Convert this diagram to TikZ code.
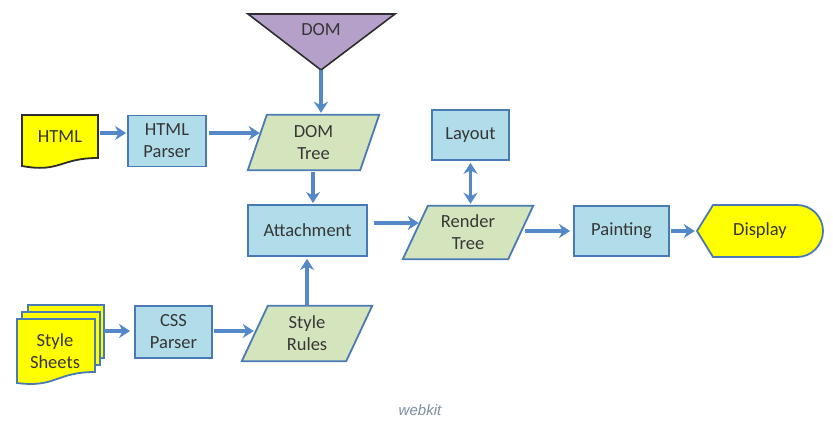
\documentclass[tikz,border=0pt]{standalone}
\usepackage{fontspec}
\setmainfont{Carlito}
\newfontfamily\captionfont{Liberation Sans}
\usetikzlibrary{arrows.meta,backgrounds}

\definecolor{procfill}{HTML}{B0DDE9}
\definecolor{datafill}{HTML}{D4E5BE}
\definecolor{domfill}{HTML}{B5A0CA}
\definecolor{docfill}{HTML}{FFFF00}
\definecolor{edgeblue}{HTML}{4A7AB4}
\definecolor{flowblue}{HTML}{5588C8}
\definecolor{inkdark}{HTML}{2E2E2E}
\definecolor{labelgray}{HTML}{363636}
\definecolor{captiongray}{HTML}{8090A0}

\begin{document}
\begin{tikzpicture}[x=1pt,y=-1pt,
  every node/.style={font=\fontsize{18.5}{22}\selectfont, text=labelgray, align=center, inner sep=0pt},
  proc/.style={draw=edgeblue, fill=procfill, line width=1.8pt},
  holder/.style={rectangle},
  datashape/.style={draw=edgeblue, fill=datafill, line width=1.8pt, line join=miter},
  docshape/.style={fill=docfill, line width=1.8pt},
  flow/.style={draw=flowblue, line width=3.2pt,
    -{Stealth[length=11pt,width=14pt,inset=3.5pt]}},
  twoway/.style={draw=flowblue, line width=3.2pt,
    {Stealth[length=11pt,width=14pt,inset=3.5pt]}-{Stealth[length=11pt,width=14pt,inset=3.5pt]}}
]
\useasboundingbox (0,0) rectangle (833,430);

% ---- processes ----
\node[proc, minimum width=78pt, minimum height=51pt] (parser) at (167,141) {HTML\\Parser};
\node[proc, minimum width=77pt, minimum height=52pt] (cssparser) at (173.5,332) {CSS\\Parser};
\node[proc, minimum width=119pt, minimum height=51pt] (attach) at (307.5,230.5) {Attachment};
\node[proc, minimum width=77pt, minimum height=50pt] (layout) at (470.5,135) {Layout};
\node[proc, minimum width=95pt, minimum height=50pt] (paint) at (621.5,231) {Painting};

% ---- data (parallelograms) ----
\node[holder, minimum width=131pt, minimum height=55pt] (domtree) at (313.5,142.5) {DOM\\Tree};
\node[holder, minimum width=130pt, minimum height=53pt] (render) at (468,232.5) {Render\\Tree};
\node[holder, minimum width=130pt, minimum height=55pt] (rules) at (307,333.5) {Style\\Rules};

% ---- inputs, output, DOM ----
\node[holder, minimum width=76pt, minimum height=44pt] (html) at (60,137) {HTML};
\node[holder, minimum width=78pt, minimum height=50pt] (sheets) at (55,351) {Style\\Sheets};
\node[holder, minimum width=126pt, minimum height=52pt] (display) at (760,231) {Display};
\node[holder] (dom) at (321,30) {DOM};
\coordinate (domtip) at (321,70);

\node[font=\captionfont\itshape\fontsize{15}{18}\selectfont, text=captiongray] (caption) at (420,410) {webkit};

\begin{scope}[on background layer]
  \fill[white] (0,0) rectangle (833,430);
  % parallelograms
  \draw[datashape] ([xshift=19pt]domtree.north west) -- (domtree.north east)
    -- ([xshift=-19pt]domtree.south east) -- (domtree.south west) -- cycle;
  \draw[datashape] ([xshift=25pt]render.north west) -- (render.north east)
    -- ([xshift=-25pt]render.south east) -- (render.south west) -- cycle;
  \draw[datashape] ([xshift=26pt]rules.north west) -- (rules.north east)
    -- ([xshift=-26pt]rules.south east) -- (rules.south west) -- cycle;
  % DOM triangle
  \draw[fill=domfill, draw=inkdark, line width=1.6pt, line join=miter]
    (248,14) -- (395,14) -- (domtip) -- cycle;
  % HTML document
  \draw[docshape, draw=inkdark]
    (22,115) -- (98,115) -- (98,158)
    .. controls (60,158) and (60,173) .. (22,166) -- cycle;
  % stacked style sheets
  \foreach \l/\t/\r in {28/305/104, 22/312/100, 17/319/95}{
    \draw[docshape, draw=edgeblue]
      (\l,\t) -- (\r,\t) -- (\r,\t+53)
      .. controls ({(\l+\r)/2},\t+53) and ({(\l+\r)/2},\t+69) .. (\l,\t+64) -- cycle;
  }
  % display terminal
  \draw[fill=docfill, draw=edgeblue, line width=1.8pt, line join=miter]
    (697,231) -- (713,205) -- (797,205) arc[start angle=-90, end angle=90, radius=26]
    -- (713,257) -- cycle;
\end{scope}

% ---- connector end points ----
\coordinate (htmlout) at ([xshift=2pt,yshift=4pt]html.east);
\coordinate (parserin) at (parser.west |- htmlout);
\coordinate (treeout) at (313,172);
\coordinate (attachin) at (313,203);
\coordinate (sheetsout) at ([xshift=10pt,yshift=1pt]sheets.east |- cssparser.west);
\coordinate (cssin) at ([xshift=-4pt]cssparser.west |- sheetsout);

% ---- connectors ----
\draw[flow] (domtip) -- ([yshift=2pt]domtip |- domtree.north);
\draw[flow] (htmlout) -- ([xshift=-1pt]parserin);
\draw[flow] ([xshift=2pt,yshift=8pt]parser.east) -- ([xshift=12pt,yshift=9.5pt]domtree.west);
\draw[flow] (treeout) -- (attachin);
\draw[flow] (rules.north) -- ([yshift=-2pt]attach.south -| rules.north);
\draw[flow] ([xshift=6pt,yshift=7.5pt]attach.east) -- ([xshift=16pt,yshift=9.5pt]render.west);
\draw[flow] ([xshift=-8pt,yshift=1.5pt]render.east) -- ([xshift=-3pt]paint.west);
\draw[twoway] ([yshift=-2pt]layout.south) -- ([yshift=2pt]layout.south |- render.north);
\draw[flow] ([xshift=1pt]paint.east) -- ([xshift=-2pt]display.west);
\draw[flow] (sheetsout) -- (cssin);
\draw[flow] ([xshift=1pt,yshift=1pt]cssparser.east) -- ([xshift=12pt,yshift=2.5pt]rules.west);
\end{tikzpicture}
\end{document}
